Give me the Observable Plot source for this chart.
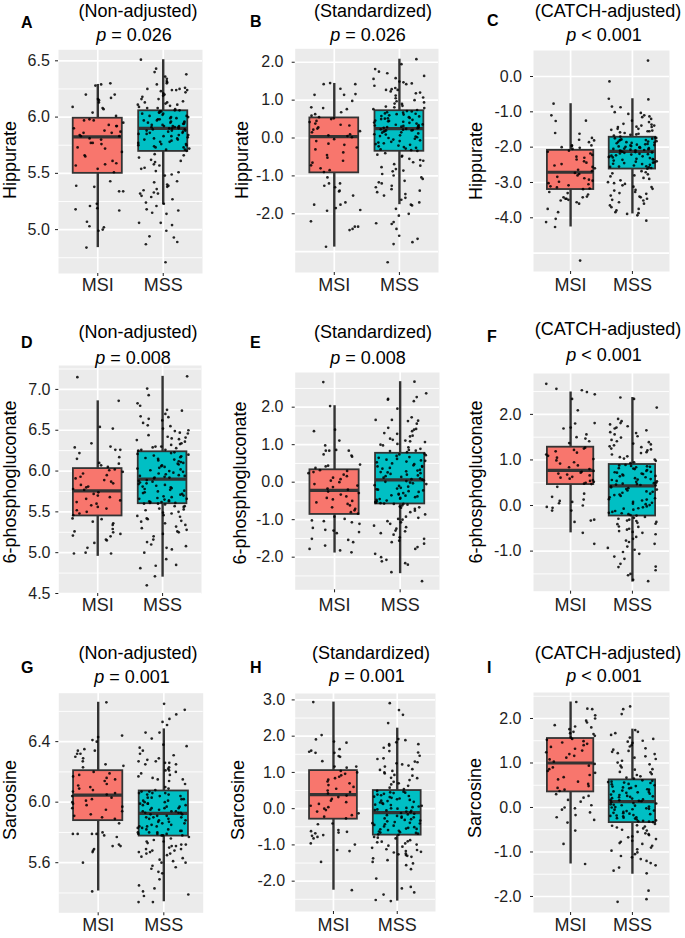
<!DOCTYPE html>
<html><head><meta charset="utf-8">
<script src="https://cdn.jsdelivr.net/npm/d3@7"></script>
<script src="https://cdn.jsdelivr.net/npm/@observablehq/plot@0.6"></script>
<style>
body{margin:0;background:#fff;}
#fig{position:relative;width:685px;height:938px;font-family:"Liberation Sans",Arial,sans-serif;color:#000;overflow:hidden;background:#fff}
.t{position:absolute;transform:translate(-50%,-50%);white-space:nowrap;font-size:18px;line-height:18px}
.l{position:absolute;transform:translateY(-50%);font-weight:bold;font-size:16px;line-height:16px}
.yt{position:absolute;transform:translate(-50%,-50%) rotate(-90deg);white-space:nowrap;font-size:18px;line-height:18px}
</style></head><body><div id="fig"></div><script>
// ---------- text ----------
const groups = ["MSI", "MSS"];
const groupFills = ["#F8766D", "#00BFC4"];
const metabolites = ["Hippurate", "6-phosphogluconate", "Sarcosine"];
const methods = ["(Non-adjusted)", "(Standardized)", "(CATCH-adjusted)"];
const panelLetters = ["A","B","C","D","E","F","G","H","I"];
const pTexts = ["= 0.026","= 0.026","< 0.001","= 0.008","= 0.008","< 0.001","= 0.001","= 0.001","< 0.001"];

// ---------- tick labels / grid ----------
const A_ticks=[5.0,5.5,6.0,6.5], A_grid=[5.0,5.5,6.0,6.5], A_minor=[4.75,5.25,5.75,6.25];
const B_ticks=[-2,-1,0,1,2], B_grid=[-3,-2,-1,0,1,2], B_minor=[];
const C_ticks=[-4,-3,-2,-1,0], C_grid=[-5,-4,-3,-2,-1,0], C_minor=[];
const D_ticks=[4.5,5.0,5.5,6.0,6.5,7.0], D_grid=[4.5,5.0,5.5,6.0,6.5,7.0], D_minor=[4.75,5.25,5.75,6.25,6.75,7.25];
const E_ticks=[-2,-1,0,1,2], E_grid=[-2,-1,0,1,2], E_minor=[-2.5,-1.5,-0.5,0.5,1.5,2.5];
const F_ticks=[-1,0,1,2], F_grid=[-1,0,1,2], F_minor=[-1.5,-0.5,0.5,1.5,2.5];
const G_ticks=[5.6,6.0,6.4], G_grid=[5.6,6.0,6.4], G_minor=[5.4,5.8,6.2,6.6];
const H_ticks=[-2,-1,0,1,2,3], H_grid=[-2,-1,0,1,2,3], H_minor=[-2.5,-1.5,-0.5,0.5,1.5,2.5];
const I_ticks=[-2,-1,0,1,2], I_grid=[-2,-1,0,1,2], I_minor=[-1.5,-0.5,0.5,1.5,2.5];

// ---------- box stats [lower whisker, Q1, median, Q3, upper whisker] ----------
const A_boxMSI=[4.84,5.50,5.825,5.99,6.29], A_boxMSS=[5.22,5.695,5.90,6.056,6.51];
const B_boxMSI=[-2.88,-0.92,0.035,0.53,1.44], B_boxMSS=[-1.76,-0.35,0.25,0.72,2.08];
const C_boxMSI=[-4.26,-3.20,-2.71,-2.09,-0.77], C_boxMSS=[-3.89,-2.62,-2.12,-1.72,-0.63];
const D_boxMSI=[4.955,5.45,5.756,6.03,6.86], D_boxMSS=[4.70,5.60,5.90,6.236,7.16];
const E_boxMSI=[-1.89,-0.86,-0.22,0.33,2.04], E_boxMSS=[-2.44,-0.58,0.06,0.77,2.68];
const F_boxMSI=[-0.60,0.46,0.77,1.28,2.49], F_boxMSS=[-1.68,-0.23,0.43,0.90,2.37];
const G_boxMSI=[5.413,5.878,6.047,6.208,6.66], G_boxMSS=[5.342,5.776,5.926,6.074,6.484];
const H_boxMSI=[-2.25,-0.29,0.39,1.05,2.94], H_boxMSS=[-2.55,-0.73,-0.11,0.50,2.22];
const I_boxMSI=[-1.27,0.35,1.0,1.55,2.37], I_boxMSS=[-1.50,-0.34,0.13,0.62,1.76];

// ---------- sample values ----------
const A_MSI=[6.30,6.29,6.28,6.20,6.20,6.17,6.16,6.15,6.13,6.09,6.08,6.07,6.04,6.01,5.98,5.97,5.97,5.95,5.93,5.92,5.92,5.90,5.88,5.87,5.86,5.86,5.84,5.83,5.83,5.81,5.80,5.77,5.77,5.76,5.73,5.72,5.69,5.66,5.65,5.61,5.59,5.58,5.57,5.54,5.51,5.43,5.39,5.38,5.34,5.34,5.23,5.21,5.19,5.18,5.17,5.07,5.03,5.02,5.00,4.99,4.84];
const A_MSS=[6.51,6.43,6.40,6.38,6.36,6.34,6.32,6.31,6.30,6.29,6.26,6.25,6.25,6.24,6.24,6.24,6.23,6.22,6.21,6.20,6.19,6.18,6.16,6.16,6.14,6.13,6.13,6.12,6.11,6.11,6.10,6.09,6.08,6.08,6.07,6.06,6.06,
6.05,6.05,6.04,6.04,6.03,6.03,6.02,6.01,6.01,6.00,6.00,5.99,5.99,5.98,5.98,5.97,5.97,5.96,5.96,5.95,5.95,5.95,5.94,5.94,5.93,5.93,5.92,5.92,5.92,5.91,5.91,5.91,5.90,5.90,5.90,5.89,5.89,5.88,5.88,5.88,5.87,5.87,5.86,5.86,5.85,5.85,5.84,5.84,5.83,5.83,5.82,5.81,5.81,5.80,5.80,5.79,5.78,5.78,5.77,5.76,5.76,5.75,5.75,5.74,5.73,5.73,5.72,5.71,5.71,5.70,
5.67,5.66,5.64,5.62,5.61,5.60,5.58,5.57,5.55,5.54,5.52,5.51,5.49,5.48,5.43,5.42,5.40,5.39,5.38,5.36,5.35,5.33,5.32,5.32,5.30,5.29,5.27,5.24,5.23,5.21,5.18,5.17,5.15,5.14,5.06,5.06,5.04,4.99,4.94,4.93,4.89,4.87,4.71];
const B_MSI=[1.45,1.42,1.42,1.30,1.16,1.14,1.14,0.98,0.81,0.79,0.76,0.68,0.63,0.59,0.55,0.52,0.50,0.45,0.42,0.38,0.35,0.33,0.28,0.25,0.22,0.18,0.15,0.10,0.07,0.05,0.02,-0.03,-0.08,-0.15,-0.18,-0.25,-0.30,-0.38,-0.45,-0.52,-0.60,-0.65,-0.72,-0.80,-0.85,-0.90,-1.04,-1.20,-1.20,-1.26,-1.30,-1.39,-1.41,-1.52,-1.70,-1.76,-1.76,-1.85,-1.90,-1.92,-2.20,-2.34,-2.34,-2.40,-2.43,-2.87];
const B_MSS=[2.08,1.95,1.82,1.75,1.71,1.64,1.58,1.56,1.49,1.47,1.44,1.42,1.38,1.32,1.29,1.27,1.27,1.23,1.20,1.18,1.12,1.07,1.05,1.00,0.97,0.94,0.91,0.90,0.85,0.83,0.81,0.79,0.76,0.74,
0.71,0.70,0.68,0.67,0.65,0.64,0.63,0.62,0.60,0.58,0.57,0.55,0.53,0.52,0.51,0.50,0.48,0.46,0.45,0.44,0.43,0.41,0.40,0.38,0.36,0.35,0.34,0.33,0.32,0.31,0.30,0.29,0.28,0.27,0.26,0.24,0.23,0.22,0.21,0.20,0.20,0.18,0.17,0.15,0.14,0.12,0.10,0.09,0.07,0.05,0.04,0.02,0.00,-0.02,-0.04,-0.06,-0.08,-0.10,-0.12,-0.14,-0.16,-0.18,-0.20,-0.22,-0.24,-0.26,-0.28,-0.30,-0.32,-0.34,
-0.40,-0.44,-0.47,-0.49,-0.55,-0.58,-0.60,-0.64,-0.69,-0.73,-0.77,-0.82,-0.86,-0.88,-0.95,-0.99,-1.04,-1.08,-1.13,-1.17,-1.20,-1.26,-1.30,-1.35,-1.39,-1.43,-1.48,-1.52,-1.58,-1.63,-1.70,-1.76,-1.78,-1.87,-2.00,-2.05,-2.22,-2.25,-2.27,-2.40,-2.58,-2.66,-2.75,-2.80,-3.28];
const C_MSI=[-0.77,-1.10,-1.25,-1.26,-1.60,-1.62,-1.74,-1.79,-1.81,-1.86,-1.95,-1.95,-1.97,-2.00,-2.02,-2.05,-2.10,-2.13,-2.18,-2.22,-2.27,-2.30,-2.35,-2.40,-2.44,-2.48,-2.52,-2.56,-2.60,-2.64,-2.68,-2.73,-2.76,-2.80,-2.84,-2.88,-2.92,-2.95,-2.98,-3.02,-3.05,-3.08,-3.11,-3.14,-3.17,-3.19,-3.27,-3.30,-3.34,-3.40,-3.42,-3.42,-3.46,-3.46,-3.49,-3.51,-3.56,-3.60,-3.75,-3.84,-4.03,-4.12,-4.26,-5.21];
const C_MSS=[0.45,-0.14,-0.63,-0.65,-0.85,-0.87,-1.01,-1.03,-1.06,-1.10,-1.13,-1.15,-1.20,-1.25,-1.29,-1.34,-1.36,-1.39,-1.39,-1.42,-1.43,-1.43,-1.48,-1.48,-1.51,-1.53,-1.55,-1.55,-1.58,-1.60,-1.62,-1.64,-1.65,-1.67,-1.70,
-1.73,-1.74,-1.75,-1.76,-1.78,-1.79,-1.80,-1.81,-1.83,-1.84,-1.85,-1.86,-1.87,-1.88,-1.89,-1.91,-1.92,-1.93,-1.94,-1.95,-1.97,-1.98,-1.99,-2.00,-2.01,-2.02,-2.03,-2.04,-2.05,-2.06,-2.07,-2.08,-2.09,-2.10,-2.11,-2.13,-2.14,-2.15,-2.16,-2.18,-2.19,-2.20,-2.21,-2.23,-2.24,-2.26,-2.27,-2.28,-2.29,-2.31,-2.33,-2.34,-2.35,-2.36,-2.38,-2.40,-2.41,-2.43,-2.44,-2.45,-2.47,-2.48,-2.50,-2.52,-2.54,-2.55,-2.56,-2.57,-2.59,-2.61,
-2.68,-2.71,-2.74,-2.77,-2.80,-2.83,-2.87,-2.90,-2.94,-2.99,-3.02,-3.04,-3.08,-3.12,-3.13,-3.18,-3.21,-3.23,-3.27,-3.30,-3.32,-3.37,-3.40,-3.42,-3.46,-3.49,-3.51,-3.56,-3.60,-3.65,-3.70,-3.75,-3.79,-3.84,-3.87,-3.89,-3.93,-4.08];
const D_MSI=[7.15,6.86,6.54,6.52,6.34,6.30,6.29,6.26,6.26,6.22,6.17,6.15,6.10,6.09,6.07,6.05,6.02,6.01,5.99,5.97,5.95,5.93,5.91,5.89,5.87,5.85,5.83,5.81,5.80,5.78,5.77,5.74,5.72,5.70,5.68,5.66,5.64,5.62,5.60,5.58,5.56,5.54,5.52,5.50,5.48,5.46,5.42,5.41,5.38,5.36,5.34,5.29,5.26,5.25,5.23,5.21,5.20,5.16,5.15,5.12,5.06,5.00,4.99,4.99];
const D_MSS=[7.16,7.01,6.93,6.83,6.80,6.75,6.74,6.70,6.67,6.66,6.64,6.62,6.59,6.56,6.55,6.52,6.50,6.49,6.47,6.46,6.44,6.42,6.41,6.40,6.39,6.38,6.36,6.34,6.33,6.32,6.30,6.30,6.29,6.28,6.26,6.26,6.25,
6.23,6.22,6.21,6.20,6.19,6.18,6.17,6.16,6.15,6.14,6.13,6.12,6.11,6.10,6.09,6.08,6.07,6.06,6.05,6.04,6.03,6.02,6.01,6.00,5.99,5.98,5.97,5.96,5.95,5.94,5.94,5.93,5.92,5.92,5.91,5.89,5.88,5.87,5.86,5.85,5.84,5.83,5.82,5.81,5.80,5.79,5.78,5.77,5.76,5.75,5.74,5.73,5.72,5.71,5.70,5.69,5.68,5.67,5.66,5.66,5.65,5.64,5.63,5.63,5.62,5.62,5.61,5.61,5.60,5.60,
5.59,5.57,5.57,5.56,5.54,5.53,5.52,5.50,5.49,5.48,5.46,5.45,5.44,5.42,5.41,5.39,5.38,5.36,5.34,5.32,5.30,5.28,5.26,5.25,5.23,5.20,5.16,5.13,5.10,5.08,5.06,5.04,5.00,4.92,4.85,4.84,4.81,4.71,4.60];
const E_MSI=[2.67,2.03,1.40,1.36,1.11,0.98,0.86,0.84,0.84,0.84,0.74,0.71,0.68,0.47,0.44,0.42,0.38,0.32,0.30,0.27,0.24,0.20,0.16,0.12,0.08,0.04,0.00,-0.05,-0.09,-0.13,-0.17,-0.20,-0.25,-0.29,-0.33,-0.38,-0.42,-0.46,-0.50,-0.54,-0.58,-0.62,-0.67,-0.71,-0.75,-0.80,-0.84,-0.92,-0.98,-1.02,-1.04,-1.07,-1.11,-1.22,-1.27,-1.29,-1.33,-1.36,-1.51,-1.54,-1.60,-1.69,-1.78,-1.82,-1.87];
const E_MSS=[2.68,2.37,2.27,2.22,2.20,2.16,1.96,1.73,1.66,1.66,1.64,1.63,1.56,1.45,1.42,1.40,1.36,1.31,1.29,1.24,1.22,1.16,1.13,1.11,1.09,1.07,1.02,1.00,0.98,0.93,0.89,0.86,0.84,0.83,0.80,
0.76,0.74,0.72,0.70,0.67,0.65,0.62,0.60,0.58,0.57,0.55,0.53,0.50,0.48,0.45,0.43,0.42,0.41,0.38,0.36,0.33,0.31,0.29,0.27,0.26,0.24,0.22,0.20,0.18,0.16,0.14,0.12,0.10,0.08,0.07,0.05,0.03,0.01,-0.01,-0.03,-0.05,-0.08,-0.10,-0.12,-0.15,-0.17,-0.19,-0.20,-0.22,-0.24,-0.26,-0.29,-0.31,-0.33,-0.35,-0.36,-0.38,-0.40,-0.42,-0.44,-0.45,-0.47,-0.49,-0.51,-0.53,-0.55,-0.56,-0.57,-0.58,-0.58,
-0.60,-0.62,-0.65,-0.67,-0.68,-0.71,-0.76,-0.80,-0.86,-0.92,-0.95,-0.98,-1.00,-1.04,-1.07,-1.11,-1.16,-1.20,-1.24,-1.29,-1.31,-1.36,-1.40,-1.47,-1.51,-1.56,-1.60,-1.64,-1.73,-1.78,-1.91,-2.00,-2.07,-2.11,-2.16,-2.20,-2.40,-2.64];
const F_MSI=[2.67,2.56,2.53,2.49,2.44,2.34,2.09,1.81,1.80,1.71,1.69,1.56,1.50,1.47,1.41,1.37,1.27,1.25,1.22,1.19,1.16,1.12,1.09,1.05,1.02,0.99,0.95,0.92,0.88,0.84,0.80,0.76,0.74,0.72,0.70,0.68,0.66,0.63,0.61,0.59,0.56,0.54,0.52,0.50,0.48,0.47,0.41,0.26,0.19,0.13,0.10,0.08,0.05,0.00,-0.03,-0.05,-0.11,-0.11,-0.31,-0.33,-0.36,-0.60,-0.84];
const F_MSS=[2.37,2.34,2.15,1.90,1.85,1.81,1.78,1.74,1.71,1.69,1.65,1.61,1.59,1.56,1.52,1.49,1.44,1.41,1.39,1.36,1.34,1.32,1.30,1.28,1.25,1.23,1.21,1.17,1.15,1.12,1.08,1.06,1.03,1.01,0.98,0.95,0.93,
0.89,0.88,0.87,0.86,0.85,0.84,0.82,0.81,0.80,0.78,0.76,0.74,0.73,0.72,0.70,0.69,0.68,0.66,0.65,0.64,0.62,0.60,0.58,0.57,0.56,0.54,0.53,0.52,0.50,0.49,0.48,0.47,0.46,0.45,0.44,0.42,0.40,0.38,0.36,0.35,0.33,0.31,0.30,0.28,0.26,0.24,0.23,0.21,0.18,0.16,0.14,0.13,0.11,0.08,0.06,0.04,0.03,0.01,-0.02,-0.04,-0.06,-0.07,-0.09,-0.12,-0.14,-0.16,-0.17,-0.19,-0.21,-0.22,
-0.25,-0.27,-0.29,-0.31,-0.33,-0.34,-0.36,-0.38,-0.40,-0.41,-0.46,-0.47,-0.51,-0.53,-0.56,-0.58,-0.60,-0.63,-0.69,-0.73,-0.77,-0.80,-0.84,-0.90,-0.93,-0.97,-1.02,-1.06,-1.12,-1.17,-1.28,-1.34,-1.35,-1.42,-1.50,-1.53,-1.63,-1.66];
const G_MSI=[6.66,6.44,6.43,6.41,6.40,6.35,6.34,6.34,6.32,6.32,6.30,6.29,6.27,6.25,6.24,6.23,6.20,6.19,6.18,6.17,6.16,6.15,6.14,6.12,6.11,6.10,6.09,6.08,6.07,6.06,6.05,6.04,6.03,6.02,6.01,6.00,5.99,5.98,5.97,5.96,5.95,5.94,5.92,5.91,5.90,5.89,5.86,5.80,5.79,5.79,5.79,5.79,5.78,5.77,5.72,5.71,5.71,5.69,5.68,5.67,5.60,5.41];
const G_MSS=[6.65,6.61,6.58,6.55,6.53,6.51,6.46,6.46,6.42,6.38,6.37,6.36,6.34,6.32,6.31,6.29,6.28,6.27,6.27,6.26,6.26,6.25,6.25,6.23,6.22,6.21,6.21,6.20,6.19,6.18,6.17,6.16,6.15,6.15,6.14,6.12,6.10,6.09,6.08,
6.07,6.07,6.06,6.06,6.06,6.05,6.05,6.04,6.04,6.03,6.03,6.02,6.02,6.01,6.01,6.00,6.00,5.99,5.99,5.99,5.98,5.98,5.97,5.97,5.96,5.96,5.96,5.95,5.95,5.94,5.94,5.94,5.93,5.93,5.93,5.92,5.92,5.91,5.91,5.90,5.90,5.90,5.89,5.89,5.88,5.88,5.87,5.87,5.86,5.86,5.85,5.85,5.84,5.84,5.84,5.83,5.83,5.82,5.82,5.81,5.81,5.80,5.80,5.80,5.79,5.79,5.79,5.78,5.78,5.78,
5.77,5.76,5.75,5.74,5.74,5.73,5.72,5.72,5.71,5.71,5.70,5.69,5.69,5.68,5.68,5.67,5.67,5.66,5.66,5.65,5.64,5.63,5.62,5.61,5.60,5.60,5.58,5.57,5.56,5.54,5.53,5.49,5.45,5.43,5.41,5.39,5.38,5.34,5.34];
const H_MSI=[2.94,2.03,1.91,1.85,1.82,1.64,1.60,1.57,1.54,1.54,1.45,1.43,1.31,1.16,1.16,1.13,1.04,1.00,0.96,0.92,0.88,0.84,0.80,0.75,0.70,0.65,0.60,0.55,0.50,0.46,0.42,0.36,0.32,0.27,0.22,0.18,0.13,0.08,0.04,0.00,-0.04,-0.08,-0.13,-0.18,-0.22,-0.27,-0.41,-0.43,-0.59,-0.62,-0.64,-0.66,-0.68,-0.73,-0.75,-0.78,-0.82,-0.96,-0.99,-1.14,-1.17,-1.47,-2.25];
const H_MSS=[2.91,2.72,2.59,2.36,1.92,1.89,1.83,1.78,1.78,1.74,1.68,1.59,1.55,1.46,1.39,1.37,1.30,1.28,1.25,1.22,1.19,1.16,1.09,1.07,1.04,1.00,0.97,0.93,0.91,0.85,0.84,0.79,0.74,0.70,0.67,0.63,0.58,0.54,
0.49,0.47,0.45,0.44,0.43,0.41,0.39,0.37,0.35,0.33,0.32,0.30,0.28,0.26,0.24,0.22,0.21,0.19,0.17,0.15,0.13,0.11,0.10,0.08,0.06,0.04,0.02,0.01,0.00,-0.02,-0.04,-0.05,-0.06,-0.08,-0.10,-0.12,-0.14,-0.16,-0.18,-0.20,-0.22,-0.24,-0.25,-0.27,-0.29,-0.31,-0.33,-0.35,-0.37,-0.39,-0.40,-0.41,-0.43,-0.45,-0.47,-0.49,-0.51,-0.53,-0.55,-0.56,-0.57,-0.59,-0.61,-0.63,-0.65,-0.66,-0.67,-0.69,-0.71,-0.72,
-0.78,-0.80,-0.82,-0.87,-0.90,-0.91,-0.93,-0.96,-0.99,-1.02,-1.05,-1.08,-1.12,-1.14,-1.17,-1.19,-1.21,-1.24,-1.26,-1.28,-1.30,-1.33,-1.37,-1.42,-1.47,-1.51,-1.56,-1.67,-1.93,-2.16,-2.20,-2.31,-2.37,-2.52,-2.55];
const I_MSI=[2.37,2.22,2.21,2.07,2.00,1.95,1.91,1.85,1.82,1.80,1.76,1.70,1.67,1.65,1.61,1.57,1.54,1.52,1.49,1.46,1.43,1.40,1.36,1.32,1.28,1.24,1.20,1.16,1.12,1.08,1.03,0.98,0.94,0.90,0.86,0.82,0.78,0.73,0.68,0.63,0.58,0.53,0.48,0.44,0.40,0.37,0.30,0.26,0.22,0.17,0.13,0.05,0.00,-0.02,-0.05,-0.11,-0.17,-0.22,-0.28,-0.34,-0.52,-0.82,-1.27];
const I_MSS=[2.27,2.21,2.10,1.74,1.70,1.67,1.63,1.57,1.54,1.50,1.48,1.45,1.40,1.37,1.33,1.30,1.27,1.25,1.22,1.20,1.15,1.12,1.09,1.05,1.01,0.97,0.94,0.90,0.86,0.85,0.80,0.79,0.75,0.73,0.70,0.67,0.65,
0.61,0.60,0.58,0.57,0.56,0.55,0.53,0.52,0.50,0.48,0.47,0.45,0.44,0.43,0.41,0.40,0.38,0.36,0.35,0.34,0.33,0.31,0.29,0.28,0.26,0.25,0.24,0.23,0.21,0.20,0.18,0.17,0.16,0.15,0.14,0.12,0.10,0.09,0.07,0.06,0.05,0.04,0.02,0.01,0.00,-0.02,-0.03,-0.04,-0.05,-0.07,-0.08,-0.10,-0.12,-0.13,-0.14,-0.15,-0.17,-0.18,-0.19,-0.20,-0.22,-0.23,-0.24,-0.25,-0.27,-0.29,-0.30,-0.31,-0.32,-0.33,
-0.37,-0.40,-0.41,-0.43,-0.45,-0.47,-0.50,-0.52,-0.55,-0.58,-0.60,-0.62,-0.65,-0.67,-0.71,-0.75,-0.77,-0.80,-0.82,-0.86,-0.90,-0.94,-0.97,-1.01,-1.05,-1.09,-1.12,-1.16,-1.20,-1.25,-1.30,-1.35,-1.42,-1.48,-1.87,-2.06,-2.12];

// ---------- assemble ----------
const panelData = [
  {pts:[A_MSI,A_MSS], box:[A_boxMSI,A_boxMSS], ticks:A_ticks, grid:A_grid, minor:A_minor},
  {pts:[B_MSI,B_MSS], box:[B_boxMSI,B_boxMSS], ticks:B_ticks, grid:B_grid, minor:B_minor},
  {pts:[C_MSI,C_MSS], box:[C_boxMSI,C_boxMSS], ticks:C_ticks, grid:C_grid, minor:C_minor},
  {pts:[D_MSI,D_MSS], box:[D_boxMSI,D_boxMSS], ticks:D_ticks, grid:D_grid, minor:D_minor},
  {pts:[E_MSI,E_MSS], box:[E_boxMSI,E_boxMSS], ticks:E_ticks, grid:E_grid, minor:E_minor},
  {pts:[F_MSI,F_MSS], box:[F_boxMSI,F_boxMSS], ticks:F_ticks, grid:F_grid, minor:F_minor},
  {pts:[G_MSI,G_MSS], box:[G_boxMSI,G_boxMSS], ticks:G_ticks, grid:G_grid, minor:G_minor},
  {pts:[H_MSI,H_MSS], box:[H_boxMSI,H_boxMSS], ticks:H_ticks, grid:H_grid, minor:H_minor},
  {pts:[I_MSI,I_MSS], box:[I_boxMSI,I_boxMSS], ticks:I_ticks, grid:I_grid, minor:I_minor}
];

// layout: frame [left,right,top,bottom] in page px, y domain, label gaps, text anchors
const layout = [
  {frame:[58,202,49.3,273], domain:[4.61,6.598], ygap:8.7, xgap:5, title:[138,11.3], pline:[134,35], letter:[21,23], ytitle:[10,160]},
  {frame:[294.7,438,48.3,272], domain:[-3.55,2.355], ygap:11.7, xgap:6, title:[373,11.3], pline:[368,35], letter:[250,22], ytitle:[242,160]},
  {frame:[533,669,50,271], domain:[-5.52,0.736], ygap:11.5, xgap:7, title:[608,11.3], pline:[604,35], letter:[487,21], ytitle:[476,161]},
  {frame:[58.3,201,365,593], domain:[4.5,7.293], ygap:8.3, xgap:4.5, title:[138,332], pline:[133,357.5], letter:[21,343], ytitle:[10,482]},
  {frame:[294.7,439,372,589.3], domain:[-2.87,2.925], ygap:11.7, xgap:8.5, title:[373,332], pline:[368,357.5], letter:[250,343], ytitle:[239.5,483]},
  {frame:[533,669,373,590.7], domain:[-1.88,2.897], ygap:12, xgap:7, title:[608,329], pline:[604,355], letter:[487,337], ytitle:[476,482]},
  {frame:[58.3,202.7,692.7,912.3], domain:[5.269,6.72], ygap:8.3, xgap:5.7, title:[138,653], pline:[132,677], letter:[21,668], ytitle:[10,800]},
  {frame:[294.7,435,693,911], domain:[-2.837,3.177], ygap:10, xgap:7, title:[371,652.5], pline:[367,676], letter:[250,668], ytitle:[238,800]},
  {frame:[533,669,692,912], domain:[-2.36,2.584], ygap:12, xgap:6, title:[608,652.5], pline:[604,676], letter:[487,668], ytitle:[475,798]}
];

// deterministic jitter (horizontal spread only, ±0.4 category units like geom_jitter)
function jit(i, k) {
  const s = Math.sin((i + 1) * 12.9898 + (k + 1) * 78.233) * 43758.5453;
  return (s - Math.floor(s) - 0.5) * 0.8;
}

const fig = document.getElementById("fig");
const rowTop = [0, 305, 620], rowH = [300, 310, 318];

panelData.forEach((P, idx) => {
  const L = layout[idx];
  const col = idx % 3, row = Math.floor(idx / 3);
  const left = col * 228, top = rowTop[row];
  const width = col === 2 ? 229 : 228, height = rowH[row];
  const [fl, fr, ft, fb] = L.frame;
  const boxes = [0, 1].map(g => {
    const s = P.box[g];
    return {g: g + 1, lo: s[0], q1: s[1], med: s[2], q3: s[3], hi: s[4], fill: groupFills[g]};
  });
  const pts = [];
  P.pts.forEach((arr, g) => arr.forEach((v, i) => pts.push({x: g + 1 + jit(i, idx * 2 + g), y: v})));

  const svg = Plot.plot({
    width, height,
    marginLeft: fl - left, marginRight: left + width - fr,
    marginTop: ft - top, marginBottom: top + height - fb,
    x: {domain: [0.4, 2.6]},
    y: {domain: L.domain},
    color: {type: "identity"},
    style: {background: "transparent", fontFamily: "'Liberation Sans', Arial, sans-serif", overflow: "visible"},
    marks: [
      Plot.frame({fill: "#EBEBEB", stroke: "none"}),
      Plot.ruleY(P.minor, {stroke: "#fff", strokeWidth: 0.9}),
      Plot.ruleY(P.grid, {stroke: "#fff", strokeWidth: 1.7}),
      Plot.ruleX([1, 2], {stroke: "#fff", strokeWidth: 1.7}),
      Plot.axisY({ticks: P.ticks, tickSize: 3, tickPadding: L.ygap - 3, tickFormat: d => d.toFixed(1), fontSize: 16, color: "#1e1e1e", label: null}),
      Plot.axisX({ticks: [1, 2], tickSize: 3, tickPadding: L.xgap - 3, tickFormat: d => groups[d - 1], fontSize: 18, color: "#1e1e1e", label: null}),
      Plot.ruleX(boxes, {x: "g", y1: "lo", y2: "hi", stroke: "#333", strokeWidth: 2.4}),
      Plot.rect(boxes, {x1: d => d.g - 0.375, x2: d => d.g + 0.375, y1: "q1", y2: "q3", fill: "fill", stroke: "#333", strokeWidth: 1.8}),
      Plot.ruleY(boxes, {y: "med", x1: d => d.g - 0.375, x2: d => d.g + 0.375, stroke: "#333", strokeWidth: 3.2}),
      Plot.dot(pts, {x: "x", y: "y", r: 1.35, fill: "#000", fillOpacity: 0.85})
    ]
  });
  svg.style.position = "absolute";
  svg.style.left = left + "px";
  svg.style.top = top + "px";
  fig.appendChild(svg);

  const add = (cls, html, x, y) => {
    const d = document.createElement("div");
    d.className = cls; d.innerHTML = html;
    d.style.left = x + "px"; d.style.top = y + "px";
    fig.appendChild(d);
  };
  add("t", methods[col], L.title[0], L.title[1]);
  const pt = pTexts[idx].replace("<", "&lt;");
  add("t", "<i>p</i> " + pt, L.pline[0], L.pline[1]);
  add("l", panelLetters[idx], L.letter[0], L.letter[1]);
  add("yt", metabolites[row], L.ytitle[0], L.ytitle[1]);
});
</script></body></html>
